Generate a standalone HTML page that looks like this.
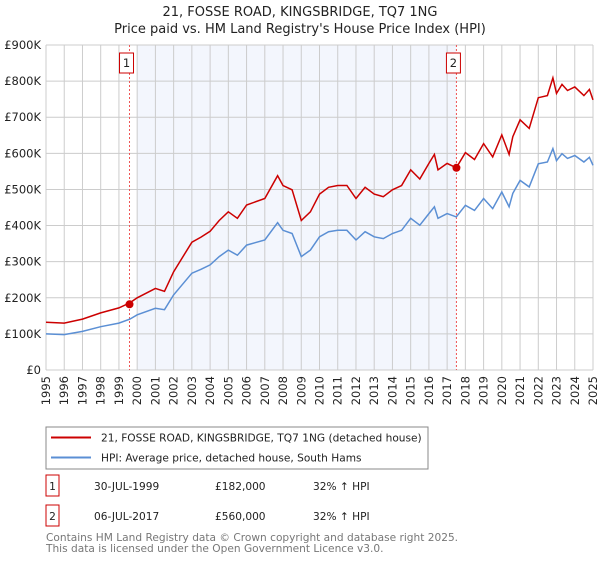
<!DOCTYPE html>
<html><head><meta charset="utf-8"><style>
body{margin:0;background:#fff;font-family:"DejaVu Sans","Liberation Sans",sans-serif;}
svg text{font-family:"DejaVu Sans","Liberation Sans",sans-serif;}
</style></head><body>
<svg id="c" width="600" height="560" xmlns="http://www.w3.org/2000/svg">
<text x="300" y="16" text-anchor="middle" font-size="13" fill="#222">21, FOSSE ROAD, KINGSBRIDGE, TQ7 1NG</text>
<text x="300" y="33" text-anchor="middle" font-size="13" fill="#222">Price paid vs. HM Land Registry's House Price Index (HPI)</text>
<g id="plot"></g>
<g>
<rect x="46" y="427" width="382" height="42" fill="#fff" stroke="#888"/>
<line x1="51" y1="437.5" x2="91" y2="437.5" stroke="#cc0000" stroke-width="2"/>
<text x="101" y="441.5" font-size="10.6" fill="#222">21, FOSSE ROAD, KINGSBRIDGE, TQ7 1NG (detached house)</text>
<line x1="51" y1="457.5" x2="91" y2="457.5" stroke="#5b8fd4" stroke-width="2"/>
<text x="101" y="461.5" font-size="10.6" fill="#222">HPI: Average price, detached house, South Hams</text>
</g>
<g>
<rect x="46" y="475" width="13" height="21" fill="#fff" stroke="#cc0000"/>
<text x="52.5" y="490" text-anchor="middle" font-size="10.6" fill="#222">1</text>
<text x="94" y="490" font-size="10.6" fill="#222">30-JUL-1999</text>
<text x="215" y="490" font-size="10.6" fill="#222">£182,000</text>
<text x="313" y="490" font-size="10.6" fill="#222">32% ↑ HPI</text>
<rect x="46" y="505" width="13" height="21" fill="#fff" stroke="#cc0000"/>
<text x="52.5" y="520" text-anchor="middle" font-size="10.6" fill="#222">2</text>
<text x="94" y="520" font-size="10.6" fill="#222">06-JUL-2017</text>
<text x="215" y="520" font-size="10.6" fill="#222">£560,000</text>
<text x="313" y="520" font-size="10.6" fill="#222">32% ↑ HPI</text>
</g>
<text x="46" y="541" font-size="10.6" fill="#777">Contains HM Land Registry data © Crown copyright and database right 2025.</text>
<text x="46" y="552" font-size="10.6" fill="#777">This data is licensed under the Open Government Licence v3.0.</text>
</svg>
<script>
const years=[1995,1996,1997,1998,1999,1999.6,2000,2001,2001.5,2002,2003,2003.5,2004,2004.5,2005,2005.5,2006,2007,2007.7,2008,2008.5,2009,2009.5,2010,2010.5,2011,2011.5,2012,2012.5,2013,2013.5,2014,2014.5,2015,2015.5,2016,2016.3,2016.5,2017,2017.5,2018,2018.5,2019,2019.5,2020,2020.4,2020.6,2021,2021.5,2022,2022.5,2022.8,2023,2023.3,2023.6,2024,2024.5,2024.8,2025];
const hpi=[100,98,107,120,130,141,153,171,167,208,268,279,291,314,332,318,346,360,408,387,378,314,332,369,383,387,387,360,383,369,364,378,387,420,401,433,452,420,433,424,456,442,475,447,493,452,489,525,507,571,576,613,580,599,586,594,576,589,567];
const price=[132,130,141,158,172,186,200,226,218,272,354,368,384,414,438,420,457,475,538,511,499,414,438,487,506,511,511,475,506,487,480,499,511,554,529,572,597,554,572,560,602,583,627,590,651,597,646,693,669,754,760,809,766,791,774,784,760,777,748];
const yTicks=[0,100,200,300,400,500,600,700,800,900];
const yTickLabels=["£0","£100K","£200K","£300K","£400K","£500K","£600K","£700K","£800K","£900K"];
const saleYears=[1999.58,2017.51];
const salePrices=[182,560];
const saleLabels=["1","2"];
const L=46,R=593,T=45,B=370,x0=1995,x1=2025,vmax=900;
const X=y=>L+(y-x0)/(x1-x0)*(R-L);
const Y=v=>B-v/vmax*(B-T);
const NS="http://www.w3.org/2000/svg";
const g=document.getElementById('plot');
function mk(t,a){const e=document.createElementNS(NS,t);for(const k in a)e.setAttribute(k,a[k]);g.appendChild(e);return e;}
let e=mk('rect',{x:X(2000),y:T,width:X(saleYears[1])-X(2000),height:B-T,fill:'#f3f6fd'});


for(let yr=1995;yr<=2025;yr++){
 e=mk('line',{x1:X(yr),x2:X(yr),y1:T,y2:B,stroke:'#cccccc','stroke-width':1});
 
 
 e=mk('text',{transform:`translate(${X(yr)+4},${B+6}) rotate(-90)`,'text-anchor':'end','font-size':11.5,fill:'#222'});
 e.textContent=yr;
 
 
}
yTicks.forEach((v,i)=>{
 e=mk('line',{x1:L,x2:R,y1:Y(v),y2:Y(v),stroke:'#cccccc','stroke-width':1});
 
 
 e=mk('text',{x:L-5,y:Y(v)+4,'text-anchor':'end','font-size':11.5,fill:'#222'});
 e.textContent=yTickLabels[i];
 
 
});
saleYears.forEach((s,i)=>{
 e=mk('line',{x1:X(s),x2:X(s),y1:T,y2:B,stroke:'#ee5555','stroke-width':1,'stroke-dasharray':'2,2'});
 
 
 e=mk('rect',{x:X(s)-10,y:53,width:14,height:20,fill:'#fff',stroke:'#cc0000'});
 
 
 e=mk('text',{x:X(s)-3,y:67,'text-anchor':'middle','font-size':11.5,fill:'#222'});
 e.textContent=saleLabels[i];
 
 
});
const line=arr=>years.map((yr,i)=>(i?'L':'M')+X(yr).toFixed(1)+','+Y(arr[i]).toFixed(1)).join('');
e=mk('path',{d:line(hpi),fill:'none',stroke:'#5b8fd4','stroke-width':1.5});


e=mk('path',{d:line(price),fill:'none',stroke:'#cc0000','stroke-width':1.5});


saleYears.forEach((s,i)=>{
 e=mk('circle',{cx:X(s),cy:Y(salePrices[i]),r:4,fill:'#cc0000'});
 
 
});
</script>
</body></html>
